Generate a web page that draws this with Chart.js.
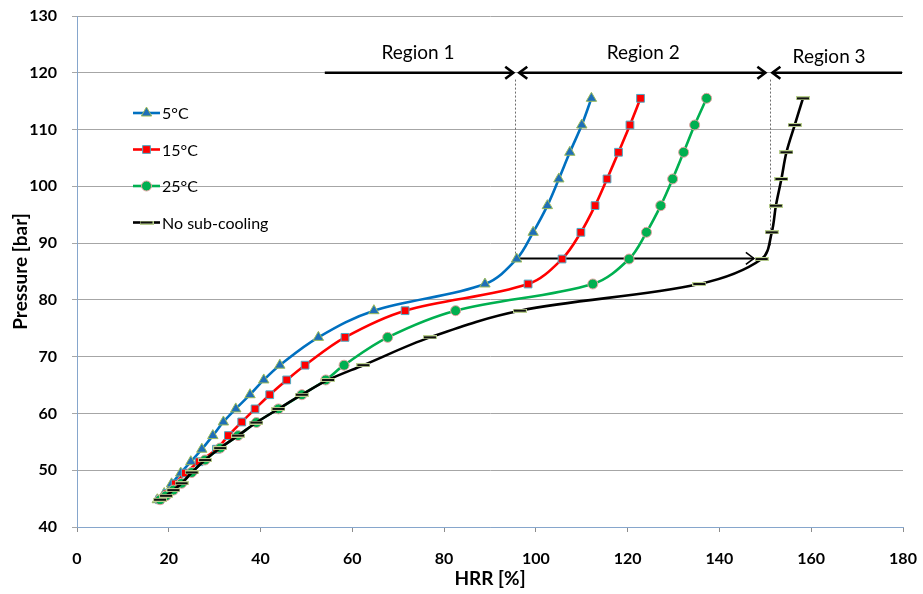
<!DOCTYPE html>
<html>
<head>
<meta charset="utf-8">
<script src="https://cdn.jsdelivr.net/npm/chart.js@4.4.1/dist/chart.umd.min.js"></script>
<style>
  html, body { margin: 0; padding: 0; background: #ffffff; }
  #wrap { width: 923px; height: 594px; }
</style>
</head>
<body>
<div id="wrap"><canvas id="c" width="923" height="594"></canvas></div>
<script>
// Series: heat rejection ratio (HRR, %) against gas-cooler pressure (bar)
const seriesNames = ['5°C', '15°C', '25°C', 'No sub-cooling'];

const pressure5 = [44.8, 45.9, 47.6, 49.5, 51.5, 53.7, 56.1, 58.5, 60.8, 63.3, 65.9, 68.5, 73.4, 78.1, 82.8, 87.2, 91.9, 96.6, 101.3, 106.0, 110.8, 115.5];
const hrr5      = [17.5, 19.0, 20.6, 22.6, 24.8, 27.2, 29.6, 31.9, 34.6, 37.7, 40.7, 44.2, 52.6, 64.7, 88.9, 95.8, 99.4, 102.5, 105.0, 107.4, 110.0, 112.1];

const pressure15 = [44.8, 45.9, 47.6, 49.5, 51.5, 53.7, 56.1, 58.5, 60.8, 63.3, 65.9, 68.5, 73.4, 78.1, 82.8, 87.2, 91.9, 96.6, 101.3, 106.0, 110.8, 115.5];
const hrr15      = [18.0, 19.6, 21.4, 23.6, 26.6, 30.4, 33.0, 35.9, 38.8, 42.0, 45.7, 49.7, 58.4, 71.5, 98.3, 105.7, 109.8, 112.9, 115.5, 118.0, 120.5, 122.8];

const pressure25 = [44.8, 45.5, 46.5, 47.7, 49.6, 51.8, 53.9, 56.1, 58.4, 60.8, 63.3, 65.9, 68.5, 73.4, 78.1, 82.8, 87.2, 91.9, 96.6, 101.3, 106.0, 110.8, 115.5];
const hrr25      = [18.1, 19.4, 21.0, 22.8, 25.0, 27.9, 31.2, 35.1, 39.1, 43.9, 49.0, 54.2, 58.2, 67.7, 82.5, 112.4, 120.3, 124.1, 127.2, 129.8, 132.2, 134.6, 137.2];

const pressureNoSub = [44.8, 45.5, 46.5, 47.7, 49.6, 51.8, 53.9, 56.1, 58.4, 60.8, 63.3, 65.9, 68.5, 73.4, 78.1, 82.8, 87.2, 91.9, 96.6, 101.3, 106.0, 110.8, 115.5];
const hrrNoSub      = [18.1, 19.4, 21.0, 22.8, 25.0, 27.9, 31.2, 35.1, 39.1, 43.9, 49.0, 54.7, 62.4, 76.9, 96.5, 135.6, 149.2, 151.4, 152.3, 153.5, 154.6, 156.4, 158.2];

// Axis ticks
const xTicks = [0, 20, 40, 60, 80, 100, 120, 140, 160, 180];
const yTicks = [40, 50, 60, 70, 80, 90, 100, 110, 120, 130];

// Region annotation (HRR boundaries, arrow level in bar)
const regionLabels = ['Region 1', 'Region 2', 'Region 3'];
const regionLabelHrr = [74.3, 123.4, 163.9];
const regionArrowP = 120;
const regionStart = 54;
const regionBound1 = 95.5;
const regionBound2 = 151.1;
const regionEnd = 180;
const transitionP = 87.3;
const transitionFrom = 95.8;
const transitionTo = 147.5;

const FONT = 'Lato, "Open Sans", "DejaVu Sans", sans-serif';

function toPoints(xs, ys) { return xs.map((x, i) => ({ x: x, y: ys[i] })); }

// Dash-shaped marker for the "No sub-cooling" series
function dashMarker() {
  const cv = document.createElement('canvas');
  cv.width = 14; cv.height = 4;
  const g = cv.getContext('2d');
  g.fillStyle = '#b9cf8e';
  g.fillRect(0, 0, 14, 4);
  g.fillStyle = '#111111';
  g.fillRect(1, 1, 12, 2);
  return cv;
}
const dashImg = dashMarker();

const styles = [
  { color: '#0070c0', point: 'triangle', fill: '#1f6fb8', edge: '#9bbb59', r: 6 },
  { color: '#ff0000', point: 'rect', fill: '#ff0000', edge: '#4bacc6', r: 5.5 },
  { color: '#00b050', point: 'circle', fill: '#00b050', edge: '#e6a0a0', r: 5 },
  { color: '#000000', point: dashImg, fill: '#000000', edge: '#c3d69b', r: 6 }
];

const seriesData = [
  toPoints(hrr5, pressure5),
  toPoints(hrr15, pressure15),
  toPoints(hrr25, pressure25),
  toPoints(hrrNoSub, pressureNoSub)
];

const datasets = seriesData.map((pts, i) => ({
  label: seriesNames[i],
  data: pts,
  showLine: true,
  borderColor: styles[i].color,
  borderWidth: 2.6,
  tension: 0.35,
  pointStyle: styles[i].point,
  pointRadius: styles[i].r,
  pointBackgroundColor: styles[i].fill,
  pointBorderColor: styles[i].edge,
  pointBorderWidth: 1,
  order: 3 - i
}));

function arrowHead(ctx, x, y, dir) {
  // open chevron pointing along dir (+1 right, -1 left)
  ctx.beginPath();
  ctx.moveTo(x - dir * 8, y - 6);
  ctx.lineTo(x, y);
  ctx.lineTo(x - dir * 8, y + 6);
  ctx.stroke();
}

// keep the plot frame fixed: no extra room reserved for overhanging tick labels
function noOverhang(s) {
  s.paddingTop = 0; s.paddingBottom = 0; s.paddingLeft = 0; s.paddingRight = 0;
}

const annotations = {
  id: 'annotations',
  beforeDatasetsDraw(chart) {
    const { ctx, scales: { x, y } } = chart;
    ctx.save();
    // dashed region boundaries
    ctx.strokeStyle = '#6e6e6e';
    ctx.lineWidth = 1;
    ctx.setLineDash([2, 2]);
    ctx.beginPath();
    ctx.moveTo(Math.round(x.getPixelForValue(regionBound1)) + 0.5, y.getPixelForValue(regionArrowP - 1.2));
    ctx.lineTo(Math.round(x.getPixelForValue(regionBound1)) + 0.5, y.getPixelForValue(transitionP));
    ctx.moveTo(Math.round(x.getPixelForValue(regionBound2)) + 0.5, y.getPixelForValue(regionArrowP - 1.2));
    ctx.lineTo(Math.round(x.getPixelForValue(regionBound2)) + 0.5, y.getPixelForValue(89.6));
    ctx.stroke();
    ctx.setLineDash([]);
    // transition arrow at the critical-region pressure
    const ty = y.getPixelForValue(transitionP);
    ctx.strokeStyle = '#000';
    ctx.lineWidth = 2;
    ctx.beginPath();
    ctx.moveTo(x.getPixelForValue(transitionFrom), ty);
    ctx.lineTo(x.getPixelForValue(transitionTo), ty);
    ctx.stroke();
    ctx.lineWidth = 1.6;
    arrowHead(ctx, x.getPixelForValue(transitionTo), ty, 1);
    ctx.restore();
  },
  afterDraw(chart) {
    const { ctx, scales: { x, y }, chartArea } = chart;
    ctx.save();
    // region arrows
    const ay = y.getPixelForValue(regionArrowP);
    ctx.strokeStyle = '#000';
    ctx.lineWidth = 2.6;
    ctx.lineCap = 'butt';
    const b1 = x.getPixelForValue(regionBound1);
    const b2 = x.getPixelForValue(regionBound2);
    const segs = [
      [x.getPixelForValue(regionStart), b1 - 2, false, true],
      [b1 + 4, b2 - 5, true, true],
      [b2 + 2, x.getPixelForValue(regionEnd) - 1, true, false]
    ];
    segs.forEach(s => {
      ctx.beginPath();
      ctx.moveTo(s[0], ay);
      ctx.lineTo(s[1], ay);
      ctx.stroke();
      if (s[2]) arrowHead(ctx, s[0], ay, -1);
      if (s[3]) arrowHead(ctx, s[1], ay, 1);
    });
    ctx.fillStyle = '#000';
    ctx.font = '19px ' + FONT;
    ctx.textAlign = 'center';
    ctx.textBaseline = 'middle';
    regionLabels.forEach((t, i) => {
      const ly = i === 2 ? y.getPixelForValue(regionArrowP + 2.8) : y.getPixelForValue(regionArrowP + 3.5);
      ctx.fillText(t, x.getPixelForValue(regionLabelHrr[i]), ly);
    });

    // legend inside the plot area
    ctx.font = '16px ' + FONT;
    ctx.textAlign = 'left';
    const lx0 = chartArea.left + 56, lx1 = chartArea.left + 83;
    chart.data.datasets.forEach((ds, i) => {
      const ly = chartArea.top + 97 + i * 36.5;
      ctx.strokeStyle = ds.borderColor;
      ctx.lineWidth = 2.6;
      ctx.beginPath();
      ctx.moveTo(lx0, ly);
      ctx.lineTo(lx1, ly);
      ctx.stroke();
      ctx.fillStyle = ds.pointBackgroundColor;
      ctx.strokeStyle = ds.pointBorderColor;
      ctx.lineWidth = 1;
      Chart.helpers.drawPoint(ctx, { pointStyle: ds.pointStyle, radius: ds.pointRadius, borderWidth: 1, rotation: 0 }, (lx0 + lx1) / 2, ly);
      ctx.fillStyle = '#000';
      ctx.fillText(ds.label, lx1 + 2, ly + 1);
    });

    // axis titles
    ctx.font = 'bold 19px ' + FONT;
    ctx.textAlign = 'center';
    ctx.fillText('HRR [%]', (chartArea.left + chartArea.right) / 2, 579);
    ctx.translate(21, (chartArea.top + chartArea.bottom) / 2);
    ctx.rotate(-Math.PI / 2);
    ctx.fillText('Pressure [bar]', 0, 0);
    ctx.restore();
  }
};

new Chart(document.getElementById('c'), {
  type: 'scatter',
  data: { datasets: datasets },
  plugins: [annotations],
  options: {
    responsive: false,
    animation: false,
    devicePixelRatio: 1,
    layout: { padding: { top: 16, right: 20, left: 0, bottom: 0 } },
    plugins: { legend: { display: false }, tooltip: { enabled: false } },
    scales: {
      x: {
        type: 'linear', min: 0, max: 180,
        afterBuildTicks: s => { s.ticks = xTicks.map(v => ({ value: v })); },
        afterFit: s => { s.height = 67; noOverhang(s); },
        ticks: { color: '#000', font: { family: FONT, size: 16, weight: 'bold' }, padding: 17, maxRotation: 0 },
        grid: { drawOnChartArea: false, drawTicks: true, tickLength: 5, color: '#8c8c8c' },
        border: { color: '#86a6cc', width: 1 }
      },
      y: {
        type: 'linear', min: 40, max: 130,
        afterBuildTicks: s => { s.ticks = yTicks.map(v => ({ value: v })); },
        afterFit: s => { s.width = 77; noOverhang(s); },
        ticks: { color: '#000', font: { family: FONT, size: 16, weight: 'bold' }, padding: 15 },
        grid: { color: '#a6a6a6', lineWidth: 1, tickLength: 5, drawTicks: true },
        border: { color: '#86a6cc', width: 1 }
      }
    }
  }
});
</script>
</body>
</html>
